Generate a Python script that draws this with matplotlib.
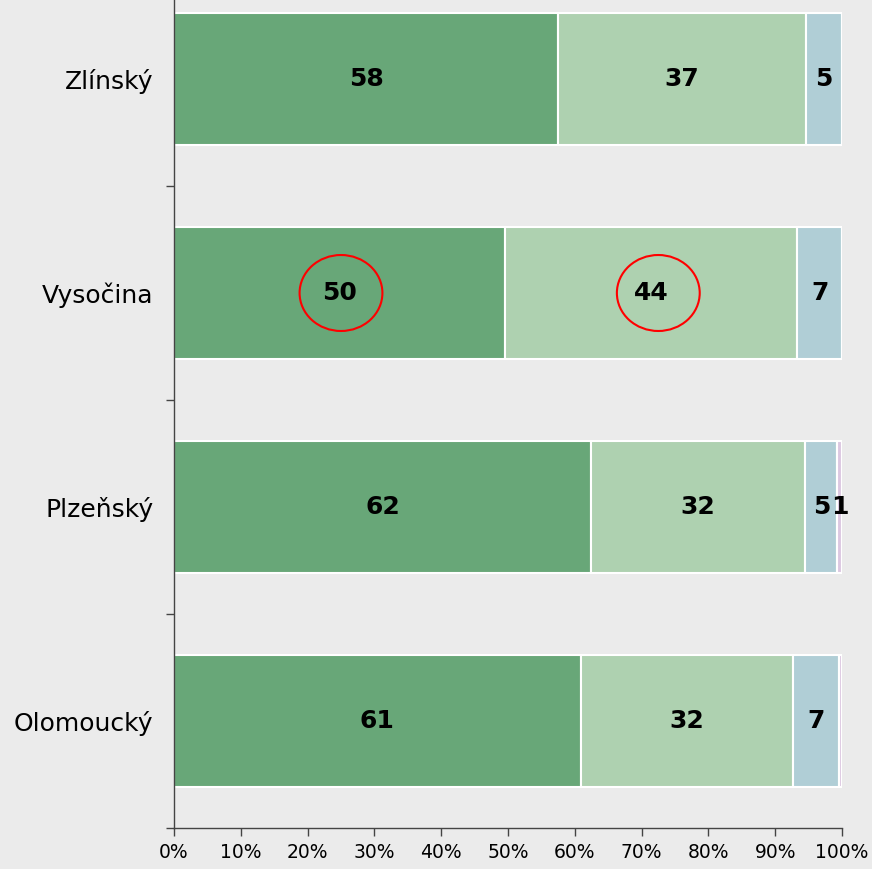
import matplotlib
matplotlib.use('Agg')
import matplotlib.pyplot as plt
import matplotlib.patches as mpatches
import numpy

# regions, top to bottom
REGIONS = ['Zlínský', 'Vysočina', 'Plzeňský', 'Olomoucký']

# share of answers (%) per region
SHARE_1 = [57.5, 49.6, 62.4, 60.9]
SHARE_2 = [37.1, 43.7, 32.1, 31.8]
SHARE_3 = [5.4, 6.7, 4.8, 6.9]
SHARE_4 = [0.0, 0.0, 0.7, 0.4]

X_TICKS = [0, 10, 20, 30, 40, 50, 60, 70, 80, 90, 100]
X_TICK_LABELS = ['0%', '10%', '20%', '30%', '40%', '50%', '60%', '70%', '80%', '90%', '100%']

# highlighted values (region index, x of circle centre)
HIGHLIGHT_ROW = 1
HIGHLIGHT_X = [25.0, 72.5]

COLORS = ['#68a778', '#aed1b0', '#b0ced6', '#dcc8e1']
BG = '#ebebeb'

fig = plt.figure(figsize=(8.72, 8.69), dpi=100, facecolor=BG)
ax = fig.add_axes([174 / 872, 41 / 869, 668 / 872, 856 / 869])
ax.set_facecolor(BG)

y = numpy.arange(len(REGIONS))
left = numpy.zeros(len(REGIONS))
for series, color in zip([SHARE_1, SHARE_2, SHARE_3, SHARE_4], COLORS):
    vals = numpy.array(series)
    ax.barh(y, vals, left=left, height=0.62, color=color, edgecolor='white', linewidth=1.5)
    for yi, l, v in zip(y, left, vals):
        if round(v) >= 1:
            ax.text(l + v / 2, yi, '%d' % round(v), ha='center', va='center',
                    fontsize=18, fontweight='bold', color='black')
    left = left + vals

# red circles around highlighted values
for cx in HIGHLIGHT_X:
    ax.add_patch(mpatches.Ellipse((cx, HIGHLIGHT_ROW), 12.4, 0.355, fill=False,
                                  edgecolor='red', linewidth=1.5, zorder=5))

ax.set_xlim(0, 100)
ax.set_ylim(len(REGIONS) - 0.5, -0.5)

ax.set_xticks(X_TICKS)
ax.set_xticklabels(X_TICK_LABELS, fontsize=13.5)
ax.set_yticks(numpy.arange(len(REGIONS) + 1) - 0.5)
ax.set_yticklabels([])
ax.set_yticks(y, minor=True)
ax.set_yticklabels(REGIONS, minor=True, fontsize=18)
ax.tick_params(axis='y', which='minor', length=0, pad=15)
ax.tick_params(axis='both', which='major', direction='out', length=6, width=1, color='#444444')
ax.tick_params(axis='x', pad=5)

for side in ['top', 'right']:
    ax.spines[side].set_visible(False)
for side in ['left', 'bottom']:
    ax.spines[side].set_color('#444444')
    ax.spines[side].set_linewidth(1)

fig.savefig('out.png', dpi=100, facecolor=BG)
